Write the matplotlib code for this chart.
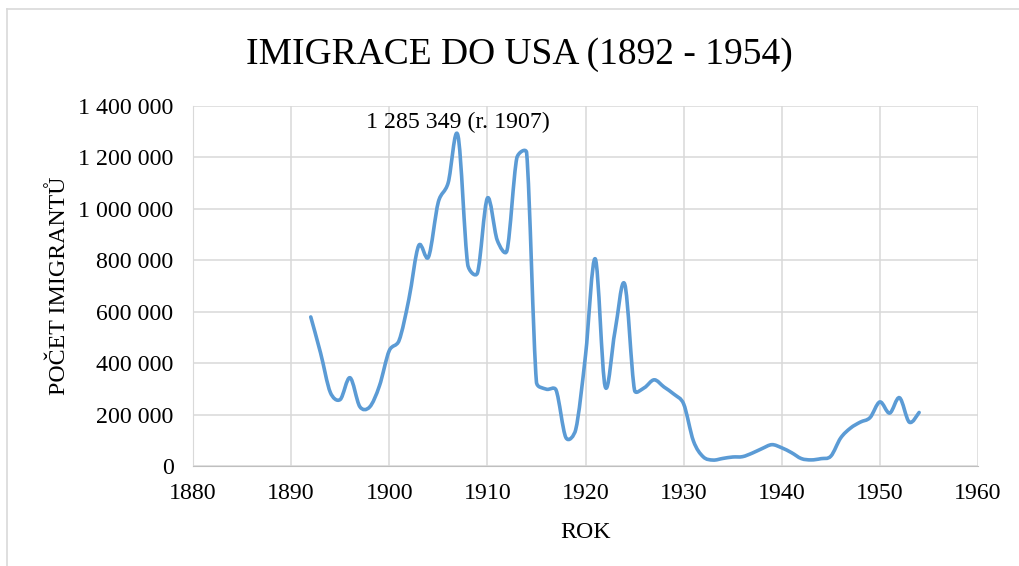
import numpy as np
import matplotlib
import matplotlib.pyplot as plt
from matplotlib.path import Path
from matplotlib.patches import PathPatch
from matplotlib.lines import Line2D
from matplotlib.ticker import FuncFormatter

matplotlib.use('Agg')

years = list(range(1892, 1955))
immigrants = [
    579663, 439730, 285631, 258536, 343267, 230832, 229299, 311715, 448572, 487918,
    648743, 857046, 812870, 1026499, 1100735, 1285349, 782870, 751786, 1041570, 878587,
    838172, 1197892, 1218480, 326700, 298826, 295403, 110618, 141132, 430001, 805228,
    309556, 522919, 706896, 294314, 304488, 335175, 307255, 279678, 241700, 97139,
    35576, 23068, 29470, 34956, 36329, 50244, 67895, 82998, 70756, 51776,
    28781, 23725, 28551, 38119, 108721, 147292, 170570, 188317, 249187, 205717,
    265520, 170434, 208177,
]
x_ticks = [1880, 1890, 1900, 1910, 1920, 1930, 1940, 1950, 1960]
y_ticks = [0, 200000, 400000, 600000, 800000, 1000000, 1200000, 1400000]
peak_label = '1 285 349 (r. 1907)'

plt.rcParams['font.family'] = ['Liberation Serif', 'DejaVu Serif']

fig = plt.figure(figsize=(10.2, 5.66), dpi=100)
ax = fig.add_axes([193 / 1020, 1 - 466 / 566, (978 - 193) / 1020, (466 - 106) / 566])
ax.set_xlim(1880, 1960)
ax.set_ylim(0, 1400000)

# smoothed line like Excel: catmull-rom handles, shortened next to short
# segments so the curve does not overshoot (worked out in pixel space)
x = np.array(years, dtype=float)
y = np.array(immigrants, dtype=float)
sx = 785 / 80
sy = 360 / 1400000
P = np.column_stack([x * sx, y * sy])
n = len(P)
tang = np.array([P[min(i + 1, n - 1)] - P[max(i - 1, 0)] for i in range(n)]) / 6
verts = [(x[0], y[0])]
codes = [Path.MOVETO]
for i in range(n - 1):
    seg = np.hypot(*(P[i + 1] - P[i]))
    a = tang[i] * min(1, 0.5 * seg / max(np.hypot(*tang[i]), 1e-9))
    b = tang[i + 1] * min(1, 0.5 * seg / max(np.hypot(*tang[i + 1]), 1e-9))
    c1 = P[i] + a
    c2 = P[i + 1] - b
    verts += [(c1[0] / sx, c1[1] / sy), (c2[0] / sx, c2[1] / sy), (x[i + 1], y[i + 1])]
    codes += [Path.CURVE4] * 3
ax.add_patch(PathPatch(Path(verts, codes), facecolor='none', edgecolor='#5B9BD5',
                       lw=2.6, capstyle='round', joinstyle='round', zorder=3))

ax.set_xticks(x_ticks)
ax.set_yticks(y_ticks)
ax.yaxis.set_major_formatter(FuncFormatter(lambda v, p: f'{int(v):,}'.replace(',', ' ')))
ax.grid(True, color='#D9D9D9', lw=1.1)
ax.set_axisbelow(True)
for s in ['top', 'right']:
    ax.spines[s].set_visible(False)
ax.spines['bottom'].set_color('#BFBFBF')
ax.spines['left'].set_color('#D9D9D9')
ax.tick_params(length=0, labelsize=17.2)
ax.tick_params(axis='y', pad=14)
ax.tick_params(axis='x', pad=12)

ax.set_xlabel('ROK', fontsize=17.2, labelpad=13)
ax.set_ylabel('POČET IMIGRANTŮ', fontsize=17.2, labelpad=6)
fig.text(0.509, 1 - 55 / 566, 'IMIGRACE DO USA (1892 - 1954)', fontsize=27,
         ha='center', va='center')

peak_i = int(np.argmax(y))
ax.annotate(peak_label, (years[peak_i], immigrants[peak_i]), xytext=(0, 2),
            textcoords='offset points', ha='center', va='bottom', fontsize=17.2)

# chart frame
fig.add_artist(Line2D([7 / 1020, 1], [1 - 9 / 566] * 2, color='#D9D9D9', lw=1.2))
fig.add_artist(Line2D([7 / 1020] * 2, [0, 1 - 9 / 566], color='#D9D9D9', lw=1.2))

plt.savefig('out.png', dpi=100)
